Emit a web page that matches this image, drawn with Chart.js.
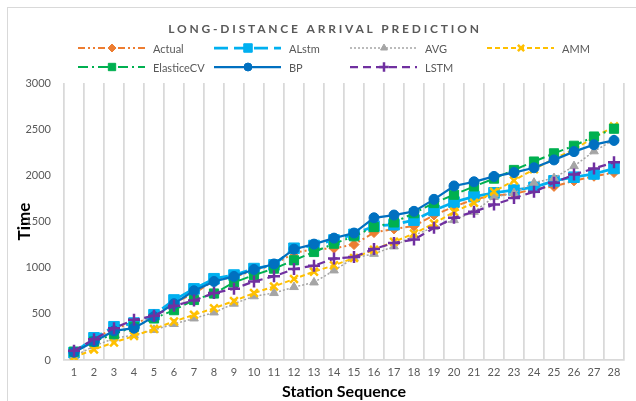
<!DOCTYPE html>
<html>
<head>
<meta charset="utf-8">
<title>Long-distance arrival prediction</title>
<script src="https://cdn.jsdelivr.net/npm/chart.js@4.4.1/dist/chart.umd.min.js"></script>
<style>
  html, body { margin: 0; padding: 0; background: #fff; }
  #wrap { width: 636px; height: 401px; }
</style>
</head>
<body>
<div id="wrap"><canvas id="myChart" width="636" height="401"></canvas></div>
<script>
const stations = ['1','2','3','4','5','6','7','8','9','10','11','12','13','14','15','16','17','18','19','20','21','22','23','24','25','26','27','28'];

const actual     = [80, 220, 350, 390, 480, 620, 720, 860, 900, 970, 1030, 1160, 1200, 1210, 1250, 1380, 1420, 1450, 1570, 1660, 1740, 1780, 1800, 1850, 1880, 1940, 1990, 2030];
const alstm      = [80, 240, 360, 400, 490, 650, 770, 880, 920, 990, 1030, 1210, 1240, 1300, 1360, 1450, 1465, 1515, 1620, 1710, 1770, 1810, 1840, 1870, 1940, 1980, 2015, 2075];
const avg        = [40, 150, 235, 270, 326, 390, 450, 515, 610, 690, 725, 790, 840, 970, 1105, 1150, 1230, 1350, 1440, 1515, 1605, 1765, 1808, 1920, 1970, 2100, 2260, 2385];
const amm        = [30, 115, 190, 260, 337, 417, 490, 560, 640, 725, 797, 877, 957, 1025, 1105, 1195, 1280, 1370, 1478, 1605, 1703, 1822, 1945, 2065, 2180, 2280, 2410, 2530];
const elasticeCV = [90, 200, 280, 360, 450, 540, 650, 720, 840, 920, 990, 1080, 1170, 1260, 1340, 1440, 1490, 1590, 1700, 1790, 1880, 1965, 2058, 2149, 2238, 2320, 2420, 2505];
const bp         = [83, 200, 315, 345, 470, 610, 750, 850, 905, 980, 1040, 1200, 1255, 1320, 1375, 1540, 1570, 1610, 1740, 1885, 1930, 1988, 2030, 2082, 2167, 2257, 2332, 2378];
const lstm       = [100, 225, 345, 435, 478, 587, 645, 725, 772, 851, 906, 985, 1022, 1098, 1116, 1203, 1268, 1304, 1431, 1540, 1605, 1683, 1754, 1821, 1920, 2008, 2074, 2141];

const seriesNames = ['Actual', 'ALstm', 'AVG', 'AMM', 'ElasticeCV', 'BP', 'LSTM'];

const FONT = 'Lato, "Open Sans", sans-serif';

function series(i, data, color, dash, width, style, radius, pbw) {
    return {
        label: seriesNames[i],
        data: data,
        borderColor: color,
        backgroundColor: color,
        borderWidth: width,
        borderDash: dash,
        pointStyle: style,
        pointRadius: radius,
        pointHoverRadius: radius,
        pointBackgroundColor: color,
        pointBorderColor: color,
        pointBorderWidth: pbw,
        tension: 0,
        fill: false,
        order: 10 - i
    };
}

// title, legend and the outer frame are drawn here
const headerPlugin = {
    id: 'header',
    beforeDraw(chart) {
        const ctx = chart.ctx;
        ctx.save();
        ctx.fillStyle = '#fff';
        ctx.fillRect(0, 0, chart.width, chart.height);
        ctx.strokeStyle = '#d9d9d9';
        ctx.lineWidth = 1;
        ctx.strokeRect(7.5, 7.5, 700, 500);
        ctx.restore();
    },
    afterDraw(chart) {
        const ctx = chart.ctx;
        ctx.save();
        ctx.fillStyle = '#595959';
        ctx.font = 'bold 12px ' + FONT;
        ctx.textAlign = 'center';
        ctx.textBaseline = 'middle';
        ctx.letterSpacing = '2.8px';
        ctx.fillText('LONG-DISTANCE ARRIVAL PREDICTION', 325, 29);
        ctx.letterSpacing = '0px';

        const cols = [78, 214, 350, 487];
        const rows = [48, 67];
        chart.data.datasets.forEach((ds, i) => {
            const x0 = cols[i % 4];
            const y = rows[Math.floor(i / 4)];
            ctx.save();
            ctx.strokeStyle = ds.borderColor;
            ctx.lineWidth = ds.borderWidth;
            ctx.setLineDash(ds.borderDash || []);
            ctx.beginPath();
            ctx.moveTo(x0, y);
            ctx.lineTo(x0 + 67, y);
            ctx.stroke();
            ctx.setLineDash([]);
            ctx.fillStyle = ds.pointBackgroundColor;
            ctx.strokeStyle = ds.pointBorderColor;
            ctx.lineWidth = ds.pointBorderWidth;
            Chart.helpers.drawPoint(ctx, {
                pointStyle: ds.pointStyle,
                radius: ds.pointRadius * 0.8,
                borderWidth: ds.pointBorderWidth,
                rotation: 0
            }, x0 + 34, y);
            ctx.restore();
            ctx.fillStyle = '#595959';
            ctx.font = '11px ' + FONT;
            ctx.textAlign = 'left';
            ctx.fillText(ds.label, x0 + 75, y + 1);
        });
        ctx.restore();
    }
};

const ctx = document.getElementById('myChart').getContext('2d');
const myChart = new Chart(ctx, {
    type: 'line',
    data: {
        labels: stations,
        datasets: [
            series(0, actual, '#ED7D31', [7, 3, 2, 3, 2, 3], 2, 'rectRot', 5, 1),
            series(1, alstm, '#00B0F0', [14, 6], 2.75, 'rect', 7.5, 1),
            series(2, avg, '#A5A5A5', [2, 2], 1.5, 'triangle', 5, 1),
            series(3, amm, '#FFC000', [5, 3], 2, 'crossRot', 5.5, 2.5),
            series(4, elasticeCV, '#00B050', [10, 4, 2, 4], 2, 'rect', 6.5, 1),
            series(5, bp, '#0070C0', [], 2.25, 'circle', 5, 1),
            series(6, lstm, '#7030A0', [8, 5], 2.25, 'cross', 6, 2.5)
        ]
    },
    options: {
        responsive: false,
        animation: false,
        devicePixelRatio: 1,
        layout: { padding: { top: 83, left: 8, right: 12, bottom: 0 } },
        plugins: {
            legend: { display: false },
            tooltip: { enabled: false }
        },
        scales: {
            x: {
                type: 'category',
                offset: true,
                grid: { offset: true, color: '#d9d9d9', lineWidth: 1.75, drawTicks: false },
                border: { color: '#d9d9d9', width: 1.75 },
                ticks: {
                    color: '#595959',
                    font: { family: FONT, size: 11 },
                    padding: 6,
                    maxRotation: 0,
                    autoSkip: false
                },
                title: {
                    display: true,
                    text: 'Station Sequence',
                    color: '#000',
                    font: { family: FONT, size: 16, weight: 'bold' },
                    padding: { top: 0, bottom: 0 }
                },
                afterFit(scale) { scale.height = 41; }
            },
            y: {
                min: 0,
                max: 3000,
                grid: { display: false, drawTicks: false },
                border: { display: false },
                ticks: {
                    stepSize: 500,
                    color: '#595959',
                    font: { family: FONT, size: 11 },
                    padding: 13,
                    callback: (value) => String(value)
                },
                title: {
                    display: true,
                    text: 'Time',
                    color: '#000',
                    font: { family: FONT, size: 17, weight: 'bold' },
                    padding: { top: 6, bottom: 0 }
                },
                afterFit(scale) { scale.width = 56; }
            }
        }
    },
    plugins: [headerPlugin]
});
</script>
</body>
</html>
